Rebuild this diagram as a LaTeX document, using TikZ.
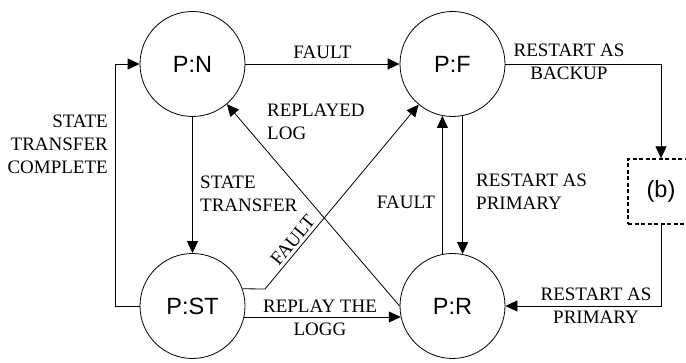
\documentclass[tikz,border=0pt]{standalone}
\usepackage{fontspec}
\setmainfont{Liberation Serif}
\newfontfamily\statefont{Liberation Sans}
\usetikzlibrary{arrows.meta}
\begin{document}
\begin{tikzpicture}[x=1pt,y=1pt,
  state/.style={circle,draw,line width=0.8pt,minimum size=105pt,inner sep=0pt,font=\statefont\fontsize{23.5}{26}\selectfont},
  lbl/.style={inner sep=1pt,font=\fontsize{19}{23}\selectfont,align=center},
  arr/.style={line width=0.8pt,-{Triangle[length=12pt,width=11pt]}},
  ln/.style={line width=0.8pt}]
\useasboundingbox (0,0) rectangle (686,-363);
\node[state] (N) at (192.5,-64) {P:N};
\node[state] (F) at (452.5,-64) {P:F};
\node[state] (ST) at (192.5,-306) {P:ST};
\node[state] (R) at (452.5,-306) {P:R};
\node[draw,line width=1.3pt,dash pattern=on 4pt off 2.5pt,minimum width=66pt,minimum height=65pt,inner sep=0pt,font=\statefont\fontsize{23.5}{26}\selectfont] (b) at (661,-191.5) {(b)};
\coordinate (cl) at (115,0);
\coordinate (k) at (265,-289);
% P:N -> P:F
\draw[arr] (N.east) -- (F.east -| F.west) node[lbl,midway,above=4pt] {FAULT};
% P:F -> (b)
\draw[arr] (F.east) -| (b.north);
\node[lbl] (l1) at (569,-62) {RESTART AS\\BACKUP};
% (b) -> P:R
\draw[arr] (b.south) |- (R.east);
\node[lbl] (l2) at (596,-306) {RESTART AS\\PRIMARY};
% P:N -> P:ST
\draw[arr] (N.south) -- (ST.north);
\node[lbl,anchor=west,align=left] (l3) at (199,-193.5) {STATE\\TRANSFER};
% P:ST -> P:N
\draw[arr] (ST.west) -- (ST.west -| cl) |- (N.west);
\node[lbl,anchor=east,align=right] (l4) at (109,-144.5) {STATE\\TRANSFER\\COMPLETE};
% P:ST -> P:F
\draw[arr] (ST.19) -- (k) -- (F) node[lbl,pos=0.23,sloped,above=2pt] {FAULT};
% P:R -> P:N
\draw[arr] (R.west) -- (N);
\node[lbl,anchor=west,align=left] (l5) at (266,-122) {REPLAYED\\LOG};
% P:R -> P:F
\draw[arr] (R.101) -- (F.259);
\node[lbl] (l6) at (406,-202) {FAULT};
% P:F -> P:R
\draw[arr] (F.281) -- (R.79);
\node[lbl,anchor=west,align=left] (l7) at (475,-192) {RESTART AS\\PRIMARY};
% P:ST -> P:R
\draw[arr] (ST.-12) -- (R.192);
\node[lbl] (l8) at (320,-318) {REPLAY THE\\LOGG};
\end{tikzpicture}
\end{document}
